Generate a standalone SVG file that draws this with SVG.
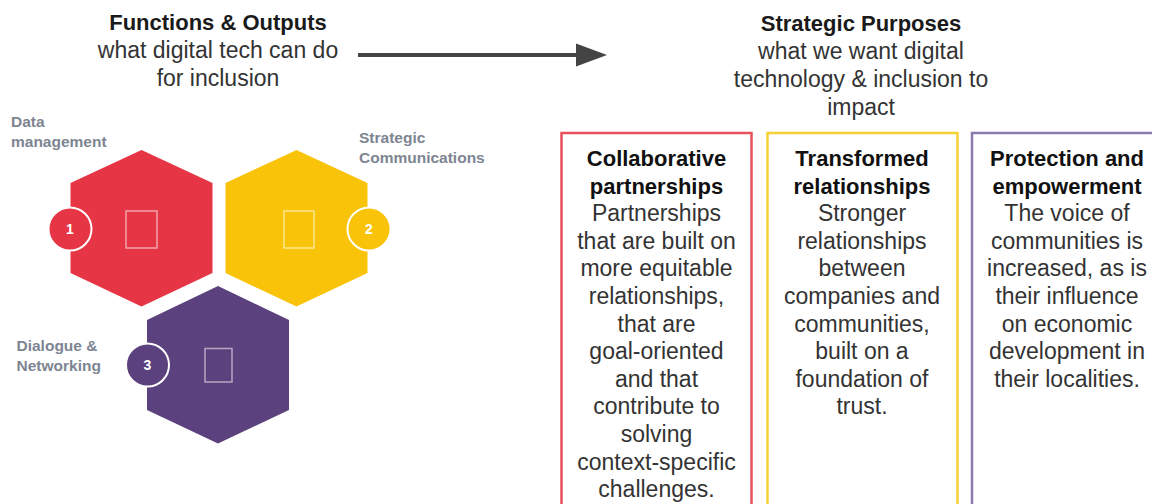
<svg xmlns="http://www.w3.org/2000/svg" width="1152" height="504" viewBox="0 0 1152 504">
<defs>
<style>
text{font-family:"Liberation Sans",Arial,sans-serif}
.h{font-size:22px;font-weight:bold;fill:#1a1a1a;text-anchor:middle}
.s{font-size:23px;fill:#333;text-anchor:middle}
.bt{font-size:22px;font-weight:bold;fill:#111;text-anchor:middle}
.bb{font-size:23px;fill:#333;text-anchor:middle}
.lab{font-size:15.5px;font-weight:bold;fill:#7d8592}
.num{font-size:14px;font-weight:bold;fill:#fff;text-anchor:middle}
.ph{fill:none;stroke:#fff;stroke-opacity:0.55;stroke-width:1.5}
.badge{stroke:#fff;stroke-width:2}
.box{fill:none;stroke-width:2.5}
</style>
</defs>
<rect width="1152" height="504" fill="#fff"/>

<g id="title-left">
<text class="h" x="218" y="30">Functions &amp; Outputs</text>
<text class="s" x="218" y="58">what digital tech can do</text>
<text class="s" x="218" y="86">for inclusion</text>
</g>

<g id="title-right">
<text class="h" x="861" y="31">Strategic Purposes</text>
<text class="s" x="861" y="59">what we want digital</text>
<text class="s" x="861" y="87">technology &amp; inclusion to</text>
<text class="s" x="861" y="115">impact</text>
</g>

<g id="connectors">
<line x1="358" y1="55" x2="578" y2="55" stroke="#444" stroke-width="4"/>
<polygon points="576,43.5 607,55 576,66.5" fill="#444"/>
</g>

<g id="hex-data">
<polygon points="141.5,150 212.5,183 212.5,273 141.5,306.5 70.5,273 70.5,183" fill="#e63544"/>
<rect class="ph" x="126" y="211" width="31" height="37"/>
<circle class="badge" cx="70" cy="229" r="21.5" fill="#e63544"/>
<text class="num" x="70" y="234">1</text>
<text class="lab" x="11" y="126.5">Data</text>
<text class="lab" x="11" y="146.5">management</text>
</g>

<g id="hex-comms">
<polygon points="296.5,150 367.5,183 367.5,273 296.5,306.5 225.5,273 225.5,183" fill="#f9c30a"/>
<rect class="ph" x="284" y="211" width="30" height="37"/>
<circle class="badge" cx="369" cy="229" r="21.5" fill="#f9c30a"/>
<text class="num" x="369" y="234">2</text>
<text class="lab" x="359" y="143">Strategic</text>
<text class="lab" x="359" y="162.5">Communications</text>
</g>

<g id="hex-dialogue">
<polygon points="218,286 289,320 289,410 218,443.5 147,410 147,320" fill="#5b417d"/>
<rect class="ph" x="205" y="348.5" width="27" height="33.5"/>
<circle class="badge" cx="147.5" cy="365" r="21.5" fill="#5b417d"/>
<text class="num" x="147.5" y="370">3</text>
<text class="lab" x="16.5" y="351">Dialogue &amp;</text>
<text class="lab" x="16.5" y="370.5">Networking</text>
</g>

<g id="box-collab">
<rect class="box" x="561.5" y="133" width="190" height="380" stroke="#e8505e"/>
<text class="bt" x="656.5" y="166">Collaborative</text>
<text class="bt" x="656.5" y="193.6">partnerships</text>
<text class="bb" x="656.5" y="221.2">Partnerships</text>
<text class="bb" x="656.5" y="248.8">that are built on</text>
<text class="bb" x="656.5" y="276.4">more equitable</text>
<text class="bb" x="656.5" y="304">relationships,</text>
<text class="bb" x="656.5" y="331.6">that are</text>
<text class="bb" x="656.5" y="359.2">goal-oriented</text>
<text class="bb" x="656.5" y="386.8">and that</text>
<text class="bb" x="656.5" y="414.4">contribute to</text>
<text class="bb" x="656.5" y="442">solving</text>
<text class="bb" x="656.5" y="469.6">context-specific</text>
<text class="bb" x="656.5" y="497.2">challenges.</text>
</g>

<g id="box-transformed">
<rect class="box" x="767.5" y="133" width="190" height="380" stroke="#f6d135"/>
<text class="bt" x="862" y="166">Transformed</text>
<text class="bt" x="862" y="193.6">relationships</text>
<text class="bb" x="862" y="221.2">Stronger</text>
<text class="bb" x="862" y="248.8">relationships</text>
<text class="bb" x="862" y="276.4">between</text>
<text class="bb" x="862" y="304">companies and</text>
<text class="bb" x="862" y="331.6">communities,</text>
<text class="bb" x="862" y="359.2">built on a</text>
<text class="bb" x="862" y="386.8">foundation of</text>
<text class="bb" x="862" y="414.4">trust.</text>
</g>

<g id="box-protection">
<rect class="box" x="972" y="133" width="190" height="380" stroke="#8a7caf"/>
<text class="bt" x="1067" y="166">Protection and</text>
<text class="bt" x="1067" y="193.6">empowerment</text>
<text class="bb" x="1067" y="221.2">The voice of</text>
<text class="bb" x="1067" y="248.8">communities is</text>
<text class="bb" x="1067" y="276.4">increased, as is</text>
<text class="bb" x="1067" y="304">their influence</text>
<text class="bb" x="1067" y="331.6">on economic</text>
<text class="bb" x="1067" y="359.2">development in</text>
<text class="bb" x="1067" y="386.8">their localities.</text>
</g>
</svg>
